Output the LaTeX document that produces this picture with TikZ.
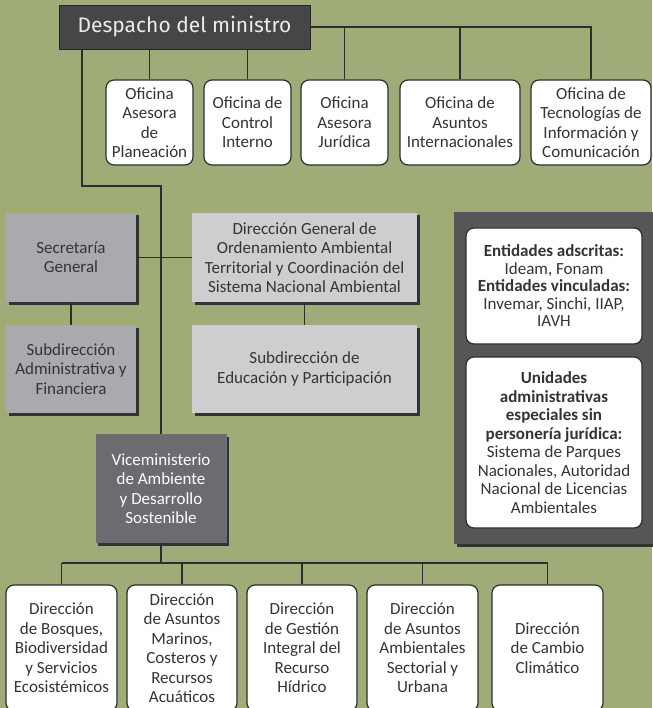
\documentclass[tikz,border=0pt]{standalone}
\usepackage{fontspec}
\setmainfont{Carlito}
\newfontfamily\titlefont{Fira Sans}
\usetikzlibrary{positioning,calc,shadows}

\definecolor{bgolive}{RGB}{160,172,120}
\definecolor{linegray}{RGB}{45,45,45}
\definecolor{textgray}{RGB}{52,52,54}
\definecolor{darkbox}{RGB}{70,70,72}
\definecolor{midbox}{RGB}{170,170,174}
\definecolor{lightbox}{RGB}{206,206,209}
\definecolor{vicebox}{RGB}{108,108,112}
\definecolor{panelbox}{RGB}{86,86,88}

\begin{document}
\begin{tikzpicture}[x=1pt, y=-1pt,
    every node/.style={align=center, inner sep=0pt, text=textgray},
    link/.style={draw=linegray, line width=1.2pt},
    title/.style={fill=darkbox, draw=black!85, line width=0.8pt, minimum width=251pt,
        minimum height=44pt, text=white!92!black, font=\titlefont\fontsize{21}{24}\selectfont},
    office/.style={draw=linegray, line width=1.2pt, fill=white, rounded corners=8pt,
        minimum height=#1, font=\fontsize{17}{19.5}\selectfont},
    unitbox/.style={fill=#1, drop shadow={shadow xshift=2.5pt, shadow yshift=-2.5pt,
        opacity=1, fill=black!80}, font=\fontsize{17}{19.5}\selectfont},
    ]
    % Background
    \useasboundingbox (0,0) rectangle (652,708);
    \fill[bgolive] (0,0) rectangle (652,708);

    % Minister and offices
    \node[title] (despacho) at (184.5,27) {Despacho del ministro};
    \node[office=85pt, minimum width=87pt] (planeacion) at (149.5,122.5) {Oficina\\Asesora\\de\\Planeación};
    \node[office=85pt, minimum width=87pt] (control) at (247.5,122.5) {Oficina de\\Control\\Interno};
    \node[office=85pt, minimum width=87pt] (juridica) at (344.5,122.5) {Oficina\\Asesora\\Jurídica};
    \node[office=85pt, minimum width=120pt] (internacionales) at (460,122.5) {Oficina de\\Asuntos\\Internacionales};
    \node[office=85pt, minimum width=120pt] (tic) at (591,122.5) {Oficina de\\Tecnologías de\\Información y\\Comunicación};

    % Secretaria and general direction
    \node[unitbox=midbox, minimum width=130pt, minimum height=89pt] (secretaria) at (71,257.5) {Secretaría\\General};
    \node[unitbox=lightbox, minimum width=225pt, minimum height=89pt] (ordenamiento) at (304.5,257.5)
        {Dirección General de\\Ordenamiento Ambiental\\Territorial y Coordinación del\\Sistema Nacional Ambiental};
    \node[unitbox=midbox, minimum width=130pt, minimum height=88pt] (subadm) at (71,369) {Subdirección\\Administrativa y\\Financiera};
    \node[unitbox=lightbox, minimum width=225pt, minimum height=88pt] (subedu) at (304.5,369) {Subdirección de\\Educación y Participación};
    \node[unitbox=vicebox, minimum width=131pt, minimum height=109pt, text=white] (vice) at (161,488.5)
        {Viceministerio\\de Ambiente\\y Desarrollo\\Sostenible};

    % Entities panel
    \node[unitbox=panelbox, minimum width=208pt, minimum height=332pt] (panel) at (558,378) {};
    \node[office=116pt, minimum width=176pt, font=\fontsize{17}{17.5}\selectfont] (adscritas) at (554,286)
        {\textbf{Entidades adscritas:}\\Ideam, Fonam\\\textbf{Entidades vinculadas:}\\Invemar, Sinchi, IIAP,\\IAVH};
    \node[office=171pt, minimum width=176pt, font=\fontsize{17}{18.5}\selectfont] (especiales) at (554,442.5)
        {\textbf{Unidades}\\\textbf{administrativas}\\\textbf{especiales sin}\\\textbf{personería jurídica:}\\Sistema de Parques\\Nacionales, Autoridad\\Nacional de Licencias\\Ambientales};

    % Directions
    \node[office=126pt, minimum width=111pt] (bosques) at (61.5,648) {Dirección\\de Bosques,\\Biodiversidad\\y Servicios\\Ecosistémicos};
    \node[office=126pt, minimum width=110pt] (marinos) at (182,648) {Dirección\\de Asuntos\\Marinos,\\Costeros y\\Recursos\\Acuáticos};
    \node[office=126pt, minimum width=110pt] (hidrico) at (302,648) {Dirección\\de Gestión\\Integral del\\Recurso\\Hídrico};
    \node[office=126pt, minimum width=111pt] (sectorial) at (422.5,648) {Dirección\\de Asuntos\\Ambientales\\Sectorial y\\Urbana};
    \node[office=126pt, minimum width=111pt] (cambio) at (547.5,648) {Dirección\\de Cambio\\Climático};

    % Links from the minister
    \draw[link] (despacho.east) -- (despacho.east -| tic.north) -- (tic.north);
    \foreach \n in {juridica, internacionales}
        \draw[link] (\n.north) -- (\n.north |- despacho.east);
    \foreach \n in {planeacion, control}
        \draw[link] (\n.north) -- (\n.north |- despacho.south);

    % Trunk
    \coordinate (bend) at (82,186);
    \draw[link] (bend |- despacho.south) -- (bend) -- (bend -| vice.north) -- (vice.north);
    \draw[link] (secretaria.east) -- (ordenamiento.west);
    \draw[link] (secretaria.south) -- (subadm.north);
    \draw[link] (ordenamiento.south) -- (subedu.north);

    % Bus to the directions
    \coordinate (bus) at (0,563);
    \draw[link] (vice.south) -- (vice.south |- bus);
    \draw[link] (bosques.north |- bus) -- (cambio.north |- bus);
    \foreach \n in {bosques, marinos, hidrico, sectorial, cambio}
        \draw[link] (\n.north) -- (\n.north |- bus);
\end{tikzpicture}
\end{document}
